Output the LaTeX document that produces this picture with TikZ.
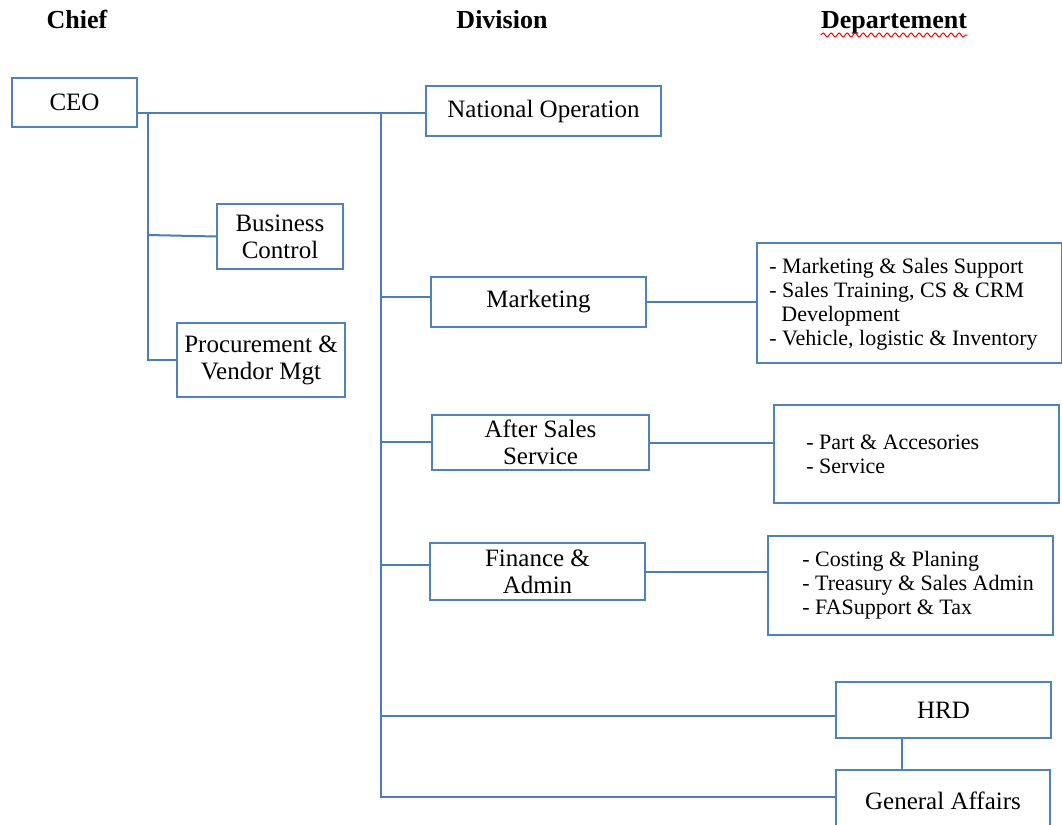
\documentclass[tikz,border=0pt]{standalone}
\usepackage{fontspec}
\setmainfont{Liberation Serif}
\usetikzlibrary{positioning, decorations.pathmorphing}
\definecolor{boxblue}{RGB}{79,129,189}
\definecolor{lineblue}{RGB}{74,126,187}

\begin{document}
\begin{tikzpicture}[
        x=0.5pt, y=-0.5pt,
        every node/.style={align=center, inner sep=0pt},
        head/.style={anchor=base, font=\fontsize{13}{15}\selectfont\bfseries},
        box/.style={draw=boxblue, line width=1pt, font=\fontsize{12.5}{13.5}\selectfont},
        deptbox/.style={draw=boxblue, line width=1pt},
        dept/.style={align=left, anchor=west, font=\fontsize{11}{12}\selectfont},
        line/.style={lineblue, line width=1pt},
    ]
    \useasboundingbox (0,0) rectangle (1062,825);
    % Headers
    \node[head] (Chief) at (77,28) {Chief};
    \node[head] (Division) at (502,28) {Division};
    \node[head] (Departement) at (894,28) {Departement};
    \draw[red, line width=0.5pt, decorate, decoration={snake, amplitude=1pt, segment length=4pt}]
        ([yshift=-3.5pt]Departement.base west) -- ([yshift=-3.5pt]Departement.base east);
    % Nodes
    \node[box, minimum width=62.5pt, minimum height=24.5pt] (CEO) at (74.5,102.5) {CEO};
    \node[box, minimum width=63pt, minimum height=32.5pt] (BusCtrl) at (280,236.5) {Business\\ Control};
    \node[box, minimum width=84pt, minimum height=37pt] (Procure) at (261,360) {Procurement \&\\ Vendor Mgt};
    \node[box, minimum width=117.5pt, minimum height=25pt] (NatOp) at (543.5,111) {National Operation};
    \node[box, minimum width=107.5pt, minimum height=25pt] (Mkt) at (538.5,302) {Marketing};
    \node[box, minimum width=108.5pt, minimum height=27.5pt] (AfterSales) at (540.5,442.5) {After Sales\\ Service};
    \node[box, minimum width=107.5pt, minimum height=28.5pt] (Finance) at (537.5,571.5) {Finance \&\\ Admin};
    \node[box, minimum width=107.5pt, minimum height=28pt] (HRD) at (943.5,710) {HRD};
    \node[box, minimum width=107pt, minimum height=31pt] (GA) at (943,801) {General Affairs};
    % Departements
    \node[deptbox, minimum width=152.5pt, minimum height=60pt] (MktDept) at (909.5,303) {};
    \node[dept] (MktList) at (769,304) {- Marketing \& Sales Support\\- Sales Training, CS \& CRM\\\hspace*{6pt}Development\\- Vehicle, logistic \& Inventory};
    \node[deptbox, minimum width=142.5pt, minimum height=49pt] (ASDept) at (916.5,454) {};
    \node[dept] (ASList) at (806,454) {- Part \& Accesories\\- Service};
    \node[deptbox, minimum width=142.5pt, minimum height=49.5pt] (FinDept) at (910.5,585.5) {};
    \node[dept] (FinList) at (802,585) {- Costing \& Planing\\- Treasury \& Sales Admin\\- FASupport \& Tax};
    % Lines
    \coordinate (ChiefTop) at (148,113);
    \coordinate (DivTop) at (381,113);
    \coordinate (DivBot) at (381,797);
    \draw[line] (CEO.east |- ChiefTop) -- (NatOp.west |- ChiefTop);
    \draw[line] (ChiefTop) -- (ChiefTop |- Procure.west) -- (Procure.west);
    \draw[line] (ChiefTop |- 0,235) -- (BusCtrl.west);
    \draw[line] (DivTop) -- (DivBot) -- (GA.west |- DivBot);
    \draw[line] (DivTop |- 0,297) -- (Mkt.west |- 0,297);
    \draw[line] (DivTop |- 0,442) -- (AfterSales.west |- 0,442);
    \draw[line] (DivTop |- 0,565) -- (Finance.west |- 0,565);
    \draw[line] (DivTop |- 0,716) -- (HRD.west |- 0,716);
    \draw[line] (Mkt.east) -- (MktDept.west |- Mkt.east);
    \draw[line] (AfterSales.east) -- (ASDept.west |- AfterSales.east);
    \draw[line] (Finance.east) -- (FinDept.west |- Finance.east);
    \draw[line] ([xshift=-21pt]HRD.south) -- ([xshift=-21pt]HRD.south |- GA.north);
\end{tikzpicture}
\end{document}
